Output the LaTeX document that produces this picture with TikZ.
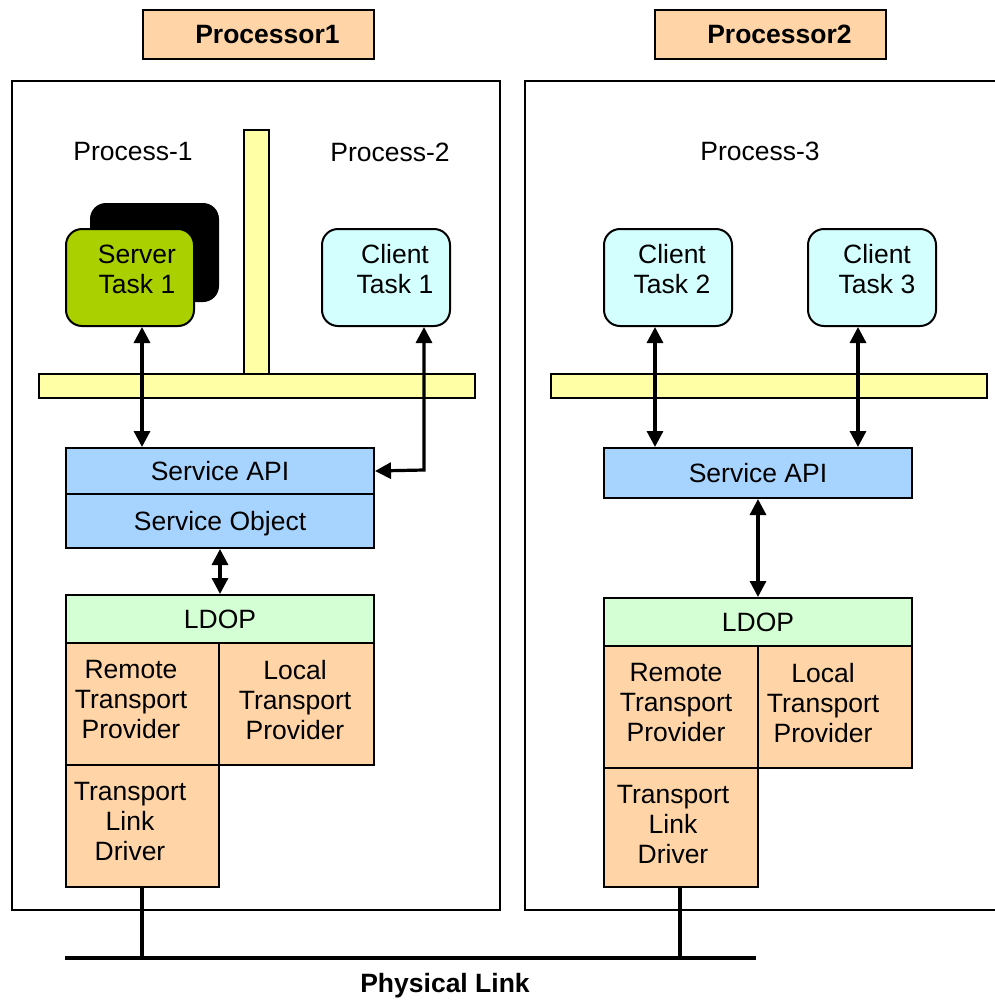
\documentclass[tikz,border=0pt]{standalone}
\usepackage{fontspec}
\setmainfont{Liberation Sans}
\usetikzlibrary{arrows.meta,calc}
\definecolor{peach}{RGB}{255,213,168}
\definecolor{apiblue}{RGB}{166,212,255}
\definecolor{ldopgreen}{RGB}{212,255,212}
\definecolor{barylw}{RGB}{255,255,166}
\definecolor{srvgreen}{RGB}{170,208,0}
\definecolor{cltcyan}{RGB}{212,255,255}
\tikzset{
  box/.style={draw=black, line width=2pt, anchor=north west, inner sep=0pt, align=center,
    text depth=0pt, font=\fontsize{26.5}{30}\selectfont},
  taskbox/.style={box, rounded corners=16pt, minimum width=128pt, minimum height=97pt},
  procbox/.style={box, fill=peach, minimum width=231pt, minimum height=49pt,
    font=\fontsize{26.5}{30}\selectfont\bfseries},
  outer/.style={draw=black, line width=2pt},
  bar/.style={draw=black, line width=2pt, fill=barylw},
  lbl/.style={inner sep=0pt, align=center, font=\fontsize{26.5}{30}\selectfont},
  dbl/.style={line width=3.2pt, {Triangle[width=16pt,length=16pt]}-{Triangle[width=16pt,length=16pt]}},
  wire/.style={line width=4.5pt}
}
\begin{document}
\begin{tikzpicture}[x=1pt,y=-1pt]
\useasboundingbox (0,0) rectangle (994,1002);
% processor labels
\node[procbox] (p1) at (142,9) {\hspace*{18pt}Processor1};
\node[procbox] (p2) at (654,9) {\hspace*{18pt}Processor2};
% outer boxes
\draw[outer] (12,81) rectangle (500,910);
\draw[outer] (525,81) rectangle (998,910);
% process labels
\node[lbl] (pr1) at (133,152) {Process-1};
\node[lbl] (pr2) at (390,152) {Process-2};
\node[lbl] (pr3) at (760,151) {Process-3};
% yellow bars
\draw[bar] (244,130) rectangle (269,374);
\draw[bar] (39,374) rectangle (475,398);
\draw[bar] (551,374) rectangle (987,398);
% tasks
\fill[black, rounded corners=16pt] (90,203) rectangle (219,302);
\node[taskbox, fill=srvgreen] (srv) at (65,228) {};
\node[taskbox, fill=cltcyan] (cl1) at (321,228) {};
\node[taskbox, fill=cltcyan] (cl2) at (603,228) {};
\node[taskbox, fill=cltcyan] (cl3) at (807,228) {};
\node[lbl] (srvt) at (137,269) {Server\\Task 1};
\node[lbl] (cl1t) at (395,269) {Client\\Task 1};
\node[lbl] (cl2t) at (672,269) {Client\\Task 2};
\node[lbl] (cl3t) at (877,269) {Client\\Task 3};
% left stack
\node[box, fill=apiblue, minimum width=308pt, minimum height=46pt] (api1) at (65,447) {Service API};
\node[box, fill=apiblue, minimum width=308pt, minimum height=54pt] (obj1) at (65,493) {Service Object};
\node[box, fill=ldopgreen, minimum width=308pt, minimum height=48pt] (ldop1) at (65,594) {LDOP};
\node[box, fill=peach, minimum width=153pt, minimum height=122pt] (rtp1) at (65,642) {};
\node[box, fill=peach, minimum width=155pt, minimum height=122pt] (ltp1) at (218,642) {};
\node[box, fill=peach, minimum width=153pt, minimum height=122pt] (tld1) at (65,764) {};
\node[lbl] (rtp1t) at (131,700) {Remote\\Transport\\Provider};
\node[lbl] (ltp1t) at (295,700) {Local\\Transport\\Provider};
\node[lbl] (tld1t) at (130,822) {Transport\\Link\\Driver};
% right stack
\node[box, fill=apiblue, minimum width=308pt, minimum height=50pt] (api2) at (603,447) {Service API};
\node[box, fill=ldopgreen, minimum width=308pt, minimum height=48pt] (ldop2) at (603,597) {LDOP};
\node[box, fill=peach, minimum width=154pt, minimum height=122pt] (rtp2) at (603,645) {};
\node[box, fill=peach, minimum width=154pt, minimum height=122pt] (ltp2) at (757,645) {};
\node[box, fill=peach, minimum width=154pt, minimum height=119pt] (tld2) at (603,767) {};
\node[lbl] (rtp2t) at (676,703) {Remote\\Transport\\Provider};
\node[lbl] (ltp2t) at (823,703) {Local\\Transport\\Provider};
\node[lbl] (tld2t) at (673,825) {Transport\\Link\\Driver};
% arrows
\coordinate (sx) at (142,0);
\coordinate (c1) at (424,470);
\coordinate (x2) at (655,0);
\coordinate (x3) at (858,0);
\draw[dbl] (srv.south -| sx) -- (api1.north -| sx);
\draw[dbl] (cl1.south -| c1) -- (c1) -- (api1.east);
\draw[dbl] (cl2.south -| x2) -- (api2.north -| x2);
\draw[dbl] (cl3.south -| x3) -- (api2.north -| x3);
\draw[dbl] (obj1.south) -- (ldop1.north);
\draw[dbl] (api2.south) -- (ldop2.north);
% physical link
\coordinate (pl1) at (65,958);
\coordinate (pl2) at (756,958);
\draw[wire] (pl1) -- (pl2);
\draw[wire] (tld1.south -| sx) -- (pl1 -| sx);
\coordinate (lx) at (680,0);
\draw[wire] (tld2.south -| lx) -- (pl1 -| lx);
\node[lbl, font=\fontsize{26.5}{30}\selectfont\bfseries] (plink) at (445,986) {Physical Link};
\end{tikzpicture}
\end{document}
